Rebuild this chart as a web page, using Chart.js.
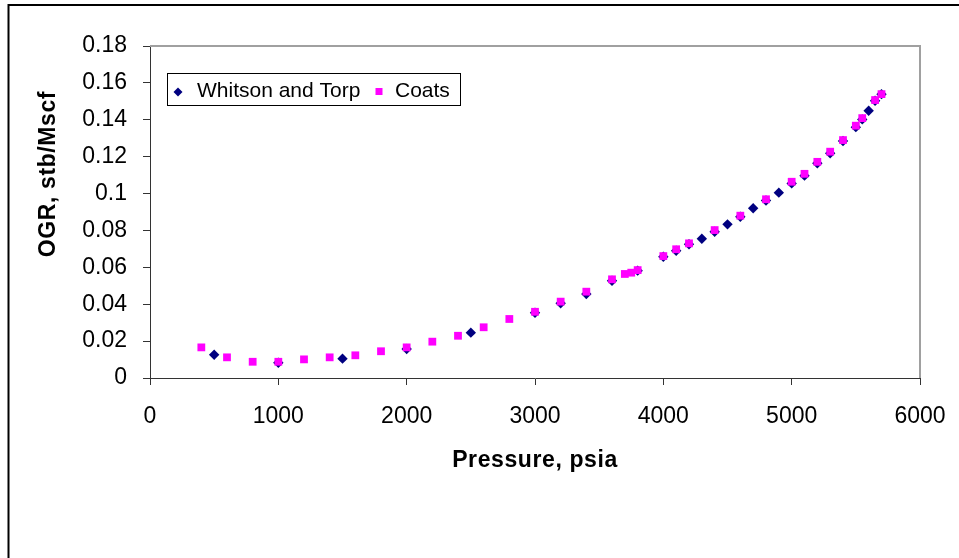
<!DOCTYPE html>
<html>
<head>
<meta charset="utf-8">
<script src="https://cdn.jsdelivr.net/npm/chart.js@4/dist/chart.umd.min.js"></script>
<style>
  html, body { margin: 0; padding: 0; background: #fff; }
  #ogrChart { display: block; }
</style>
</head>
<body>
<canvas id="ogrChart" width="959" height="558"></canvas>
<script>
// ============================
// Données
// ============================
const whitsonPressure = [500, 1000, 1500, 2000, 2500, 3000, 3200, 3400, 3600, 3800, 4000, 4100, 4200, 4300, 4400, 4500, 4600, 4700, 4800, 4900, 5000, 5100, 5200, 5300, 5400, 5500, 5550, 5600, 5650, 5700];
const whitsonOgr = [0.0126, 0.0083, 0.0105, 0.0157, 0.0246, 0.0354, 0.0405, 0.0455, 0.0527, 0.0582, 0.0657, 0.0690, 0.0725, 0.0755, 0.0793, 0.0833, 0.0874, 0.0920, 0.0962, 0.1005, 0.1055, 0.1097, 0.1164, 0.1218, 0.1285, 0.1360, 0.1402, 0.1449, 0.1503, 0.1539];

const coatsPressure = [400, 600, 800, 1000, 1200, 1400, 1600, 1800, 2000, 2200, 2400, 2600, 2800, 3000, 3200, 3400, 3600, 3700, 3750, 3800, 4000, 4100, 4200, 4400, 4600, 4800, 5000, 5100, 5200, 5300, 5400, 5500, 5550, 5650, 5700];
const coatsOgr = [0.0166, 0.0112, 0.0088, 0.0088, 0.0101, 0.0112, 0.0123, 0.0145, 0.0166, 0.0197, 0.0229, 0.0275, 0.0320, 0.0359, 0.0414, 0.0468, 0.0535, 0.0564, 0.0571, 0.0585, 0.0661, 0.0698, 0.0730, 0.0802, 0.0880, 0.0969, 0.1064, 0.1107, 0.1172, 0.1227, 0.1290, 0.1368, 0.1409, 0.1507, 0.1539];

const seriesNames = ['Whitson and Torp', 'Coats'];
const xTitle = 'Pressure, psia';
const yTitle = 'OGR, stb/Mscf';

const FONT = "'Liberation Sans', Arial, sans-serif";

function toPoints(xs, ys) {
    return xs.map((x, i) => ({ x: x, y: ys[i] }));
}

// cadre, bordure de la zone de tracé, titres et légende
const decorPlugin = {
    id: 'decor',
    beforeDraw(chart) {
        const c = chart.ctx;
        c.save();
        c.fillStyle = '#fff';
        c.fillRect(0, 0, chart.width, chart.height);
        c.restore();
    },
    afterDraw(chart) {
        const c = chart.ctx;
        const a = chart.chartArea;
        c.save();
        // cadre extérieur
        c.strokeStyle = '#000';
        c.lineWidth = 2;
        c.strokeRect(8.5, 5, 2000, 2000);
        // haut et droite de la zone de tracé
        c.strokeStyle = '#a0a0a0';
        c.lineWidth = 2;
        c.beginPath();
        c.moveTo(a.left, a.top);
        c.lineTo(a.right, a.top);
        c.lineTo(a.right, a.bottom);
        c.stroke();

        // titres des axes
        c.fillStyle = '#000';
        c.font = 'bold 23px ' + FONT;
        c.textAlign = 'center';
        c.textBaseline = 'middle';
        c.letterSpacing = '0.6px';
        c.fillText(xTitle, (a.left + a.right) / 2, 461);
        c.translate(49, 174);
        c.rotate(-Math.PI / 2);
        c.fillText(yTitle, 0, 0);
        c.restore();

        // légende
        c.save();
        c.strokeStyle = '#000';
        c.lineWidth = 1;
        c.strokeRect(167.5, 73.5, 293, 32);
        const ds = chart.data.datasets;
        c.fillStyle = ds[0].backgroundColor;
        c.beginPath();
        c.moveTo(178, 87.5);
        c.lineTo(182.5, 92);
        c.lineTo(178, 96.5);
        c.lineTo(173.5, 92);
        c.closePath();
        c.fill();
        c.fillStyle = ds[1].backgroundColor;
        c.fillRect(375.5, 88, 7, 7);
        c.fillStyle = '#000';
        c.font = '21px ' + FONT;
        c.textAlign = 'left';
        c.textBaseline = 'middle';
        c.fillText(seriesNames[0], 197, 91.5);
        c.fillText(seriesNames[1], 395, 91.5);
        c.restore();
    }
};

const ctx = document.getElementById('ogrChart').getContext('2d');
const ogrChart = new Chart(ctx, {
    type: 'scatter',
    data: {
        datasets: [
            {
                label: seriesNames[0],
                data: toPoints(whitsonPressure, whitsonOgr),
                pointStyle: 'rectRot',
                pointRadius: 5.2,
                borderWidth: 0,
                backgroundColor: '#000080',
                borderColor: '#000080',
                order: 2
            },
            {
                label: seriesNames[1],
                data: toPoints(coatsPressure, coatsOgr),
                pointStyle: 'rect',
                pointRadius: 5.5,
                borderWidth: 0,
                backgroundColor: '#ff00ff',
                borderColor: '#ff00ff',
                order: 1
            }
        ]
    },
    options: {
        responsive: false,
        animation: false,
        devicePixelRatio: 1,
        layout: { autoPadding: false, padding: { left: 0, top: 46, right: 39, bottom: 0 } },
        plugins: {
            legend: { display: false },
            tooltip: { enabled: false }
        },
        scales: {
            x: {
                type: 'linear',
                min: 0,
                max: 6000,
                afterFit: (s) => { s.height = 180; s.paddingLeft = 0; s.paddingRight = 0; },
                ticks: {
                    stepSize: 1000,
                    color: '#000',
                    padding: 18,
                    maxRotation: 0,
                    font: { family: FONT, size: 23 },
                    callback: (v) => String(v)
                },
                grid: {
                    drawOnChartArea: false,
                    drawTicks: true,
                    tickLength: 7,
                    color: '#333'
                },
                border: { display: true, color: '#333', width: 1 }
            },
            y: {
                type: 'linear',
                min: 0,
                max: 0.18,
                afterFit: (s) => { s.width = 150; s.paddingTop = 0; s.paddingBottom = 0; },
                ticks: {
                    stepSize: 0.02,
                    color: '#000',
                    padding: 16,
                    font: { family: FONT, size: 23 },
                    callback: (v) => String(+v.toFixed(2))
                },
                grid: {
                    drawOnChartArea: false,
                    drawTicks: true,
                    tickLength: 7,
                    color: '#333'
                },
                border: { display: true, color: '#333', width: 1 }
            }
        }
    },
    plugins: [decorPlugin]
});
</script>
</body>
</html>
